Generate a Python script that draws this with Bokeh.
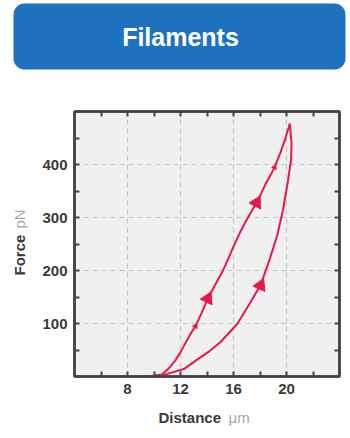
import numpy as np
from bokeh.plotting import figure
from bokeh.models import Range1d, Label, LinearAxis, FixedTicker, BoxAnnotation
from bokeh.layouts import column, row
from bokeh.core.properties import value
from bokeh.embed import file_html
from bokeh.resources import INLINE

# ---- data ----
title_text = "Filaments"
x_label, x_unit = "Distance", "μm"
y_label, y_unit = "Force", "pN"

x_ticks = [8, 12, 16, 20]
x_minor = [6, 10, 14, 18, 22]
y_ticks = [100, 200, 300, 400]
y_minor = [50, 150, 250, 350, 450]

load_x = [8.8, 9.8, 10.6, 11.1, 11.6, 12.0, 12.75, 13.13, 13.6, 14.06, 14.6, 15.15, 15.6,
          16.03, 16.5, 17.03, 17.4, 17.74, 18.1, 18.42, 18.8, 19.1, 19.55, 19.9, 20.25]
load_y = [1, 1, 4, 15, 30, 46, 80, 95, 120, 147, 172, 197, 222,
          247, 272, 297, 313, 328, 346, 363, 380, 395, 423, 448, 477]

unload_x = [20.25, 20.38, 20.35, 20.1, 19.75, 19.3, 18.74, 18.04, 17.28, 16.28, 15.02,
            14.2, 13.5, 12.25, 11.0, 10.6]
unload_y = [477, 440, 410, 367, 316, 266, 222, 172, 140, 99, 65,
            48, 36, 14, 5, 2]

# indices on the curves where direction arrows sit
load_arrow_idx = [9, 17]
unload_arrow_idx = [7]
load_tick_idx = [7, 21]

RED = "#e8184a"
DARK = "#444444"
BLUE = "#1f73be"
FNT = "Liberation Sans"

XR = (4, 24)
YR = (0, 500)
FRAME_W, FRAME_H = 265, 265


def helper(w, h):
    f = figure(width=w, height=h, x_range=Range1d(0, w), y_range=Range1d(0, h),
               output_backend="svg", toolbar_location=None,
               x_axis_location=None, y_axis_location=None, min_border=0, frame_align=False)
    f.outline_line_color = None
    f.grid.visible = False
    f.background_fill_color = None
    f.border_fill_color = None
    return f

# ---- header banner ----
hdr = helper(350, 75)
hdr.add_layout(BoxAnnotation(left=13, right=345, bottom=6, top=72, fill_color=BLUE,
                             fill_alpha=1, line_color=None, border_radius=11))
hdr.add_layout(Label(x=180, y=39, text=title_text, text_font=FNT, text_font_style="bold",
                     text_font_size="25px", text_color="white", text_align="center",
                     text_baseline="middle"))

# ---- y-axis title ----
lft = helper(30, 326)
lft.text(x=[19], y=[126], text=[y_label], text_font=value(FNT), text_font_style="bold",
         text_font_size="15px", text_color="#3a3a3a", text_align="left",
         text_baseline="middle", angle=np.pi / 2)
lft.text(x=[19], y=[173], text=[y_unit], text_font=value(FNT), text_font_size="15px",
         text_color="#a8a8a8", text_align="left", text_baseline="middle", angle=np.pi / 2)

# ---- x-axis title ----
bot = helper(350, 37)
bot.text(x=[158], y=[21], text=[x_label], text_font=value(FNT), text_font_style="bold",
         text_font_size="15px", text_color="#3a3a3a", text_align="left", text_baseline="middle")
bot.text(x=[228], y=[21], text=[x_unit], text_font=value(FNT), text_font_size="15px",
         text_color="#a8a8a8", text_align="left", text_baseline="middle")

# ---- main plot ----
p = figure(width=320, height=326, x_range=Range1d(*XR), y_range=Range1d(*YR),
           output_backend="svg", toolbar_location=None, frame_align=False,
           min_border_left=44, min_border_right=11, min_border_top=36, min_border_bottom=25)
p.background_fill_color = "#f0f0f0"
p.border_fill_color = "white"
p.outline_line_color = DARK
p.outline_line_width = 2.5

p.xaxis.ticker = FixedTicker(ticks=x_ticks, minor_ticks=x_minor)
p.yaxis.ticker = FixedTicker(ticks=y_ticks, minor_ticks=y_minor)


def style_axis(ax, labels=True):
    ax.axis_line_color = DARK
    ax.axis_line_width = 2.5
    ax.major_tick_line_color = DARK
    ax.minor_tick_line_color = DARK
    ax.major_tick_line_width = 2
    ax.minor_tick_line_width = 2
    ax.major_tick_in = 5
    ax.major_tick_out = 0
    ax.minor_tick_in = 5
    ax.minor_tick_out = 0
    if labels:
        ax.major_label_text_font = FNT
        ax.major_label_text_font_style = "bold"
        ax.major_label_text_font_size = "15px"
        ax.major_label_text_color = "#3a3a3a"
        ax.major_label_standoff = 7
    else:
        ax.major_label_text_font_size = "0px"
        ax.major_label_text_alpha = 0
        ax.major_label_standoff = 0


style_axis(p.xaxis[0])
style_axis(p.yaxis[0])
top_ax = LinearAxis(ticker=FixedTicker(ticks=x_ticks, minor_ticks=x_minor))
right_ax = LinearAxis(ticker=FixedTicker(ticks=y_ticks, minor_ticks=y_minor))
style_axis(top_ax, labels=False)
style_axis(right_ax, labels=False)
p.add_layout(top_ax, "above")
p.add_layout(right_ax, "right")

p.grid.grid_line_color = "#c4c4c4"
p.grid.grid_line_dash = "5 4"
p.grid.grid_line_width = 1.2

p.line(load_x, load_y, line_color=RED, line_width=2)
p.line(unload_x, unload_y, line_color=RED, line_width=2)

sx = FRAME_W / (XR[1] - XR[0])
sy = FRAME_H / (YR[1] - YR[0])


def arrows(xs, ys, idxs):
    ax_, ay_, ang = [], [], []
    for i in idxs:
        dx = (xs[i + 1] - xs[i - 1]) * sx
        dy = (ys[i + 1] - ys[i - 1]) * sy
        ax_.append(xs[i]); ay_.append(ys[i])
        ang.append(np.arctan2(dy, dx) - np.pi / 2)
    return ax_, ay_, ang


lx, ly, la = arrows(load_x, load_y, load_arrow_idx)
p.scatter(lx, ly, marker="triangle", angle=la, size=13, fill_color=RED, line_color=RED)
ux, uy, ua = arrows(unload_x, unload_y, unload_arrow_idx)
ua = [a + np.pi for a in ua]  # travel direction is reversed (downward)
p.scatter(ux, uy, marker="triangle", angle=ua, size=13, fill_color=RED, line_color=RED)
tx, ty, ta = arrows(load_x, load_y, load_tick_idx)
p.scatter(tx, ty, marker="triangle", angle=ta, size=5, fill_color=RED, line_color=RED)

layout = column(hdr, row(lft, p, spacing=0), bot, spacing=0)
open("out.html", "w").write(file_html(layout, INLINE))
